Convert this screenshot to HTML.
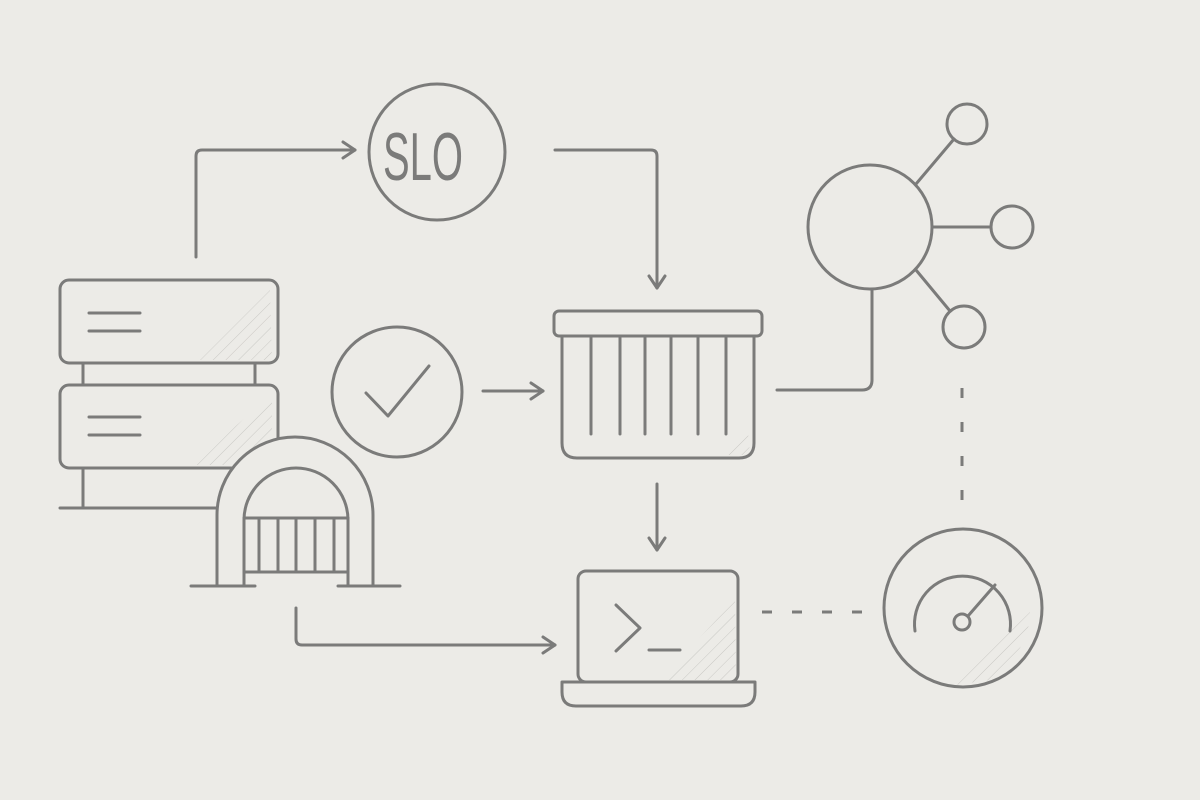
<!DOCTYPE html>
<html><head><meta charset="utf-8"><style>
html,body{margin:0;padding:0;background:#ecebe7;}
svg{display:block}
</style></head><body>
<svg width="1200" height="800" viewBox="0 0 1200 800" xmlns="http://www.w3.org/2000/svg">
<defs>
<pattern id="h" width="9" height="9" patternUnits="userSpaceOnUse" patternTransform="rotate(45)">
<line x1="0" y1="0" x2="0" y2="9" stroke="#c9c8c4" stroke-width="1"/>
</pattern>
</defs>
<rect width="1200" height="800" fill="#ecebe7"/>
<g fill="none" stroke="#7b7b7a" stroke-width="3" stroke-linecap="round" stroke-linejoin="round">
<!-- server -->
<path d="M200 360 L270 290 L272 360 Z" fill="url(#h)" stroke="none"/>
<rect x="60" y="280" width="218" height="83" rx="9"/>
<line x1="89" y1="313" x2="140" y2="313"/><line x1="89" y1="331" x2="140" y2="331"/>
<line x1="83" y1="363" x2="83" y2="385"/><line x1="255" y1="363" x2="255" y2="385"/>
<rect x="60" y="385" width="218" height="83" rx="9"/>
<path d="M190 465 L272 395 L272 465 Z" fill="url(#h)" stroke="none"/>
<line x1="89" y1="417" x2="140" y2="417"/><line x1="89" y1="435" x2="140" y2="435"/>
<line x1="83" y1="468" x2="83" y2="508"/>
<line x1="60" y1="508" x2="230" y2="508"/>
<!-- arch -->
<path d="M217 585 L217 515 A78 78 0 0 1 373 515 L373 585 Z" fill="#ecebe7" stroke="none"/>
<path d="M217 585 L217 515 A78 78 0 0 1 373 515 L373 585"/>
<path d="M244 585 L244 520 A52 52 0 0 1 348 520 L348 585"/>
<line x1="244" y1="518" x2="348" y2="518"/><line x1="244" y1="572" x2="348" y2="572"/>
<line x1="259" y1="518" x2="259" y2="572"/><line x1="278" y1="518" x2="278" y2="572"/>
<line x1="296" y1="518" x2="296" y2="572"/><line x1="315" y1="518" x2="315" y2="572"/>
<line x1="334" y1="518" x2="334" y2="572"/>
<line x1="191" y1="586" x2="255" y2="586"/><line x1="338" y1="586" x2="400" y2="586"/>
<!-- check -->
<circle cx="397" cy="392" r="65"/>
<polyline points="366,393 388,416 429,366"/>
<!-- SLO -->
<circle cx="437" cy="152" r="68"/>
<!-- arrows -->
<path d="M196 257 L196 156 Q196 150 202 150 L355 150"/><polyline points="343,142 355,150 343,158"/>
<path d="M555 150 L651 150 Q657 150 657 156 L657 288"/><polyline points="649,276 657,288 665,276"/>
<line x1="483" y1="391" x2="543" y2="391"/><polyline points="531,383 543,391 531,399"/>
<line x1="657" y1="484" x2="657" y2="550"/><polyline points="649,538 657,550 665,538"/>
<path d="M296 608 L296 639 Q296 645 302 645 L555 645"/><polyline points="543,637 555,645 543,653"/>
<!-- queue -->
<rect x="554" y="311" width="208" height="25" rx="5"/>
<path d="M725 455 L748 432 L750 455 Z" fill="url(#h)" stroke="none"/>
<path d="M562 336 L562 443 Q562 458 577 458 L739 458 Q754 458 754 443 L754 336"/>
<line x1="591" y1="338" x2="591" y2="434"/><line x1="620" y1="338" x2="620" y2="434"/>
<line x1="645" y1="338" x2="645" y2="434"/><line x1="671" y1="338" x2="671" y2="434"/>
<line x1="698" y1="338" x2="698" y2="434"/><line x1="726" y1="338" x2="726" y2="434"/>
<!-- hub -->
<path d="M777 390 L862 390 Q872 390 872 380 L872 290"/>
<circle cx="870" cy="227" r="62"/>
<circle cx="967" cy="124" r="20"/><circle cx="1012" cy="227" r="21"/><circle cx="964" cy="327" r="21"/>
<line x1="916" y1="184" x2="954" y2="139"/><line x1="932" y1="227" x2="991" y2="227"/><line x1="916" y1="270" x2="950" y2="311"/>
<line x1="962" y1="388" x2="962" y2="500" stroke-dasharray="10 24" stroke-linecap="butt"/>
<!-- gauge -->
<path d="M955 685 L1030 612 Q1030 650 990 680 Z" fill="url(#h)" stroke="none"/>
<circle cx="963" cy="608" r="79"/>
<path d="M915 631 A48 48 0 1 1 1010 631"/>
<circle cx="962" cy="622" r="8"/>
<line x1="968" y1="616" x2="995" y2="585"/>
<line x1="762" y1="612" x2="865" y2="612" stroke-dasharray="10 20" stroke-linecap="butt"/>
<!-- laptop -->
<path d="M660 680 L735 600 L736 680 Z" fill="url(#h)" stroke="none"/>
<rect x="578" y="571" width="160" height="111" rx="8"/>
<path d="M562 682 L755 682 L755 692 Q755 706 741 706 L576 706 Q562 706 562 692 Z"/>
<polyline points="616,605 640,628 616,651"/>
<line x1="649" y1="650" x2="680" y2="650"/>
</g>
<text x="383" y="180" font-family="Liberation Sans, sans-serif" font-size="68" fill="#7b7b7a" textLength="80" lengthAdjust="spacingAndGlyphs">SLO</text>
</svg>
</body></html>
